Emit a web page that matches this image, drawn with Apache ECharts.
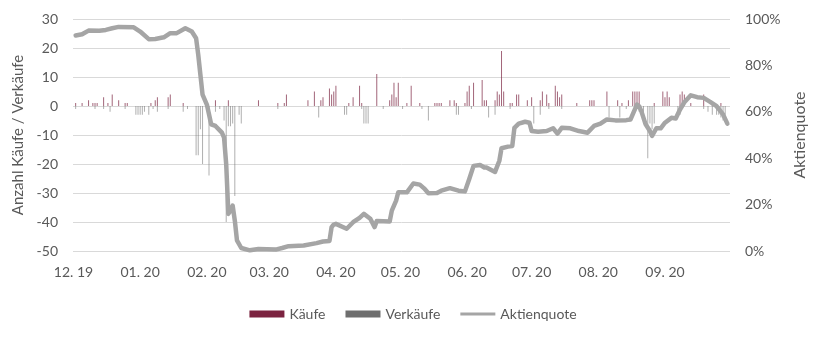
<!DOCTYPE html>
<html>
<head>
<meta charset="utf-8">
<script src="https://cdn.jsdelivr.net/npm/echarts@6/dist/echarts.min.js"></script>
<style>
  html, body { margin: 0; padding: 0; background: #ffffff; }
  #chart { width: 826px; height: 343px; }
</style>
</head>
<body>
<div id="chart"></div>
<script>
// Daily number of purchases (positive bars)
const buys = [
  ['2019-12-02', 1], ['2019-12-05', 1], ['2019-12-08', 2], ['2019-12-10', 1], ['2019-12-11', 1],
  ['2019-12-12', 1], ['2019-12-15', 3], ['2019-12-17', 1], ['2019-12-19', 4], ['2019-12-22', 2],
  ['2019-12-25', 1], ['2019-12-26', 1],
  ['2020-01-06', 1], ['2020-01-08', 2], ['2020-01-09', 3], ['2020-01-14', 3], ['2020-01-15', 4],
  ['2020-01-21', 1],
  ['2020-02-05', 2], ['2020-02-11', 2], ['2020-02-25', 2],
  ['2020-03-05', 1], ['2020-03-08', 1], ['2020-03-09', 4], ['2020-03-19', 2], ['2020-03-22', 5],
  ['2020-03-25', 2], ['2020-03-26', 3], ['2020-03-29', 6], ['2020-03-30', 4], ['2020-03-31', 5],
  ['2020-04-01', 7], ['2020-04-07', 1], ['2020-04-09', 3], ['2020-04-12', 7], ['2020-04-13', 1],
  ['2020-04-20', 11], ['2020-04-26', 2], ['2020-04-27', 4], ['2020-04-28', 8], ['2020-04-29', 3],
  ['2020-04-30', 8],
  ['2020-05-04', 1], ['2020-05-06', 7], ['2020-05-10', 1], ['2020-05-17', 1], ['2020-05-18', 1],
  ['2020-05-19', 1], ['2020-05-20', 1], ['2020-05-24', 2], ['2020-05-26', 2], ['2020-05-27', 1],
  ['2020-05-31', 1],
  ['2020-06-01', 5], ['2020-06-02', 7], ['2020-06-04', 8], ['2020-06-08', 9], ['2020-06-09', 2],
  ['2020-06-10', 2], ['2020-06-14', 2], ['2020-06-15', 5], ['2020-06-16', 4], ['2020-06-17', 19],
  ['2020-06-18', 5], ['2020-06-21', 1], ['2020-06-22', 1], ['2020-06-24', 4], ['2020-06-25', 4],
  ['2020-06-29', 2],
  ['2020-07-01', 3], ['2020-07-05', 2], ['2020-07-06', 5], ['2020-07-08', 4], ['2020-07-09', 1],
  ['2020-07-12', 7], ['2020-07-13', 5], ['2020-07-14', 3], ['2020-07-15', 4], ['2020-07-22', 1],
  ['2020-07-28', 2], ['2020-07-29', 2], ['2020-07-30', 2],
  ['2020-08-05', 5], ['2020-08-10', 2], ['2020-08-12', 1], ['2020-08-15', 2], ['2020-08-17', 5],
  ['2020-08-18', 5], ['2020-08-19', 5], ['2020-08-20', 5], ['2020-08-27', 1], ['2020-08-31', 5],
  ['2020-09-01', 3], ['2020-09-02', 5], ['2020-09-03', 3], ['2020-09-08', 4], ['2020-09-09', 5],
  ['2020-09-10', 4], ['2020-09-13', 1], ['2020-09-19', 4], ['2020-09-23', 1], ['2020-09-27', 1]
];

// Daily number of sales (negative bars)
const sells = [
  ['2019-12-02', -1], ['2019-12-11', -1], ['2019-12-15', -1], ['2019-12-18', -2], ['2019-12-25', -1],
  ['2019-12-30', -3], ['2019-12-31', -3],
  ['2020-01-01', -3], ['2020-01-02', -3], ['2020-01-03', -2], ['2020-01-05', -3], ['2020-01-07', -1],
  ['2020-01-09', -2], ['2020-01-14', -1], ['2020-01-21', -2], ['2020-01-23', -1], ['2020-01-27', -17],
  ['2020-01-28', -17], ['2020-01-29', -8], ['2020-01-30', -20],
  ['2020-02-02', -24], ['2020-02-05', -2], ['2020-02-07', -1], ['2020-02-09', -5], ['2020-02-10', -40],
  ['2020-02-11', -7], ['2020-02-12', -7], ['2020-02-13', -6], ['2020-02-14', -31], ['2020-02-16', -3],
  ['2020-02-17', -6],
  ['2020-03-05', -1], ['2020-03-24', -4],
  ['2020-04-05', -3], ['2020-04-06', -3], ['2020-04-13', -1], ['2020-04-14', -6], ['2020-04-15', -6],
  ['2020-04-16', -6], ['2020-04-23', -1],
  ['2020-05-02', -1], ['2020-05-11', -1], ['2020-05-14', -5], ['2020-05-27', -3], ['2020-05-28', -3],
  ['2020-06-03', -1], ['2020-06-11', -4], ['2020-06-14', -3], ['2020-06-21', -1],
  ['2020-07-02', -6], ['2020-07-05', -3], ['2020-07-09', -1], ['2020-07-15', -1],
  ['2020-08-06', -4], ['2020-08-11', -4], ['2020-08-14', -1], ['2020-08-20', -2], ['2020-08-22', -4],
  ['2020-08-24', -18], ['2020-08-25', -6], ['2020-08-26', -8], ['2020-08-27', -6],
  ['2020-09-07', -2], ['2020-09-08', -3], ['2020-09-19', -1], ['2020-09-21', -2], ['2020-09-23', -3],
  ['2020-09-25', -3], ['2020-09-26', -3], ['2020-09-27', -4], ['2020-09-28', -5], ['2020-09-29', -3]
];

// Equity ratio in percent
const quote = [
  ['2019-12-02', 92.9], ['2019-12-05', 93.4], ['2019-12-08', 95.0], ['2019-12-13', 94.9],
  ['2019-12-16', 95.3], ['2019-12-19', 96.0], ['2019-12-22', 96.6], ['2019-12-29', 96.4],
  ['2020-01-01', 94.6], ['2020-01-05', 91.3], ['2020-01-08', 91.4], ['2020-01-12', 92.1],
  ['2020-01-15', 93.9], ['2020-01-18', 93.9], ['2020-01-22', 96.0], ['2020-01-25', 94.6],
  ['2020-01-27', 91.7], ['2020-01-28', 84.6], ['2020-01-29', 76.0], ['2020-01-30', 67.4],
  ['2020-02-01', 63.1], ['2020-02-02', 58.9], ['2020-02-03', 54.6], ['2020-02-05', 53.9],
  ['2020-02-08', 51.0], ['2020-02-09', 48.9], ['2020-02-10', 37.4], ['2020-02-11', 16.0],
  ['2020-02-12', 17.4], ['2020-02-13', 19.6], ['2020-02-14', 13.1], ['2020-02-15', 4.6],
  ['2020-02-17', 1.3], ['2020-02-21', 0.3], ['2020-02-25', 0.9], ['2020-03-04', 0.6],
  ['2020-03-07', 1.3], ['2020-03-10', 2.1], ['2020-03-17', 2.4], ['2020-03-23', 3.4],
  ['2020-03-26', 4.1], ['2020-03-29', 4.3], ['2020-03-30', 10.3], ['2020-03-31', 11.4],
  ['2020-04-01', 11.7], ['2020-04-06', 9.6], ['2020-04-09', 12.4], ['2020-04-12', 14.3],
  ['2020-04-14', 16.0], ['2020-04-17', 13.9], ['2020-04-19', 10.3], ['2020-04-20', 12.9],
  ['2020-04-26', 12.7], ['2020-04-27', 17.4], ['2020-04-29', 21.7], ['2020-04-30', 25.3],
  ['2020-05-04', 25.3], ['2020-05-07', 29.1], ['2020-05-10', 28.6], ['2020-05-12', 27.0],
  ['2020-05-14', 24.9], ['2020-05-18', 25.0], ['2020-05-20', 26.0], ['2020-05-24', 27.1],
  ['2020-05-28', 26.0], ['2020-05-31', 25.7], ['2020-06-02', 31.0], ['2020-06-04', 36.7],
  ['2020-06-07', 37.1], ['2020-06-09', 36.0], ['2020-06-10', 36.0], ['2020-06-14', 34.1],
  ['2020-06-16', 38.9], ['2020-06-17', 44.3], ['2020-06-20', 45.0], ['2020-06-22', 45.3],
  ['2020-06-23', 53.1], ['2020-06-25', 54.9], ['2020-06-28', 55.7], ['2020-06-30', 55.3],
  ['2020-07-01', 51.7], ['2020-07-04', 51.4], ['2020-07-08', 51.7], ['2020-07-11', 52.9],
  ['2020-07-13', 50.6], ['2020-07-15', 53.1], ['2020-07-19', 52.9], ['2020-07-23', 51.7],
  ['2020-07-27', 51.0], ['2020-07-30', 53.9], ['2020-08-02', 54.9], ['2020-08-05', 56.7],
  ['2020-08-09', 56.3], ['2020-08-14', 56.4], ['2020-08-16', 56.7], ['2020-08-18', 61.0],
  ['2020-08-19', 63.1], ['2020-08-20', 62.4], ['2020-08-21', 60.3], ['2020-08-23', 54.6],
  ['2020-08-25', 51.7], ['2020-08-26', 49.6], ['2020-08-28', 52.9], ['2020-08-30', 52.9],
  ['2020-09-01', 55.3], ['2020-09-04', 57.4], ['2020-09-06', 57.1], ['2020-09-08', 61.0],
  ['2020-09-10', 64.1], ['2020-09-13', 67.1], ['2020-09-16', 66.3], ['2020-09-19', 66.0],
  ['2020-09-22', 64.3], ['2020-09-25', 62.4], ['2020-09-28', 58.9], ['2020-09-30', 54.9]
];

// Axis ranges
const countAxis = { min: -50, max: 30, step: 10 };
const quoteAxis = { min: 0, max: 100, step: 20 };
const dateRange = { start: new Date(2019, 11, 1).getTime(), end: new Date(2020, 9, 1).getTime() };

const TEXT = '#595959';
const FONT = 'Lato, "Open Sans", sans-serif';
const DAY = 24 * 3600 * 1000;
const BUY_COLOR = '#7B2340';
const SELL_COLOR = '#6E6E6E';
const QUOTE_COLOR = '#A5A5A5';

const pad2 = n => (n < 10 ? '0' : '') + n;

const chart = echarts.init(document.getElementById('chart'), null, { renderer: 'canvas' });

chart.setOption({
  animation: false,
  backgroundColor: '#ffffff',
  textStyle: { fontFamily: FONT, color: TEXT },
  grid: { left: 73, right: 96, top: 19, bottom: 92, containLabel: false },
  legend: {
    left: 'center',
    top: 302,
    itemWidth: 35,
    itemHeight: 7,
    itemGap: 20,
    symbolKeepAspect: true,
    textStyle: { color: TEXT, fontSize: 14, fontFamily: FONT },
    data: [
      { name: 'Käufe', icon: 'rect', itemStyle: { color: BUY_COLOR, opacity: 1 } },
      { name: 'Verkäufe', icon: 'rect', itemStyle: { color: SELL_COLOR, opacity: 1 } },
      { name: 'Aktienquote', icon: 'path://M0,0H35V3H0Z', itemStyle: { color: QUOTE_COLOR, opacity: 1 } }
    ]
  },
  xAxis: {
    type: 'time',
    min: dateRange.start,
    max: dateRange.end,
    splitNumber: 10,
    minInterval: 28 * DAY,
    maxInterval: 31 * DAY,
    axisLine: { show: false },
    axisTick: { show: false },
    splitLine: { show: false },
    axisLabel: {
      color: TEXT,
      fontSize: 14,
      fontFamily: FONT,
      margin: 14,
      hideOverlap: false,
      formatter: function (value) {
        if (value >= dateRange.end) return '';
        const d = new Date(value);
        return pad2(d.getMonth() + 1) + '. ' + pad2(d.getFullYear() % 100);
      }
    }
  },
  yAxis: [
    {
      type: 'value',
      position: 'left',
      min: countAxis.min,
      max: countAxis.max,
      interval: countAxis.step,
      name: 'Anzahl Käufe / Verkäufe',
      nameLocation: 'middle',
      nameRotate: 90,
      nameGap: 37,
      nameTextStyle: { color: TEXT, fontSize: 15, fontFamily: FONT },
      axisLine: { show: false },
      axisTick: { show: false },
      axisLabel: { color: TEXT, fontSize: 14, fontFamily: FONT, margin: 15 },
      splitLine: { lineStyle: { color: '#d9d9d9', width: 1 } }
    },
    {
      type: 'value',
      position: 'right',
      min: quoteAxis.min,
      max: quoteAxis.max,
      interval: quoteAxis.step,
      name: 'Aktienquote',
      nameLocation: 'middle',
      nameRotate: 90,
      nameGap: 58,
      nameTextStyle: { color: TEXT, fontSize: 16, fontFamily: FONT },
      axisLine: { show: false },
      axisTick: { show: false },
      axisLabel: { color: TEXT, fontSize: 14, fontFamily: FONT, margin: 15, formatter: '{value}%' },
      splitLine: { show: false }
    }
  ],
  series: [
    {
      name: 'Käufe',
      type: 'bar',
      stack: 'trades',
      barWidth: 1,
      itemStyle: { color: BUY_COLOR, opacity: 0.7 },
      data: buys
    },
    {
      name: 'Verkäufe',
      type: 'bar',
      stack: 'trades',
      barWidth: 1,
      itemStyle: { color: SELL_COLOR, opacity: 0.55 },
      data: sells
    },
    {
      name: 'Aktienquote',
      type: 'line',
      yAxisIndex: 1,
      symbol: 'none',
      z: 5,
      itemStyle: { color: QUOTE_COLOR },
      lineStyle: { color: QUOTE_COLOR, width: 4.5, cap: 'round', join: 'round' },
      data: quote
    }
  ]
});
</script>
</body>
</html>
